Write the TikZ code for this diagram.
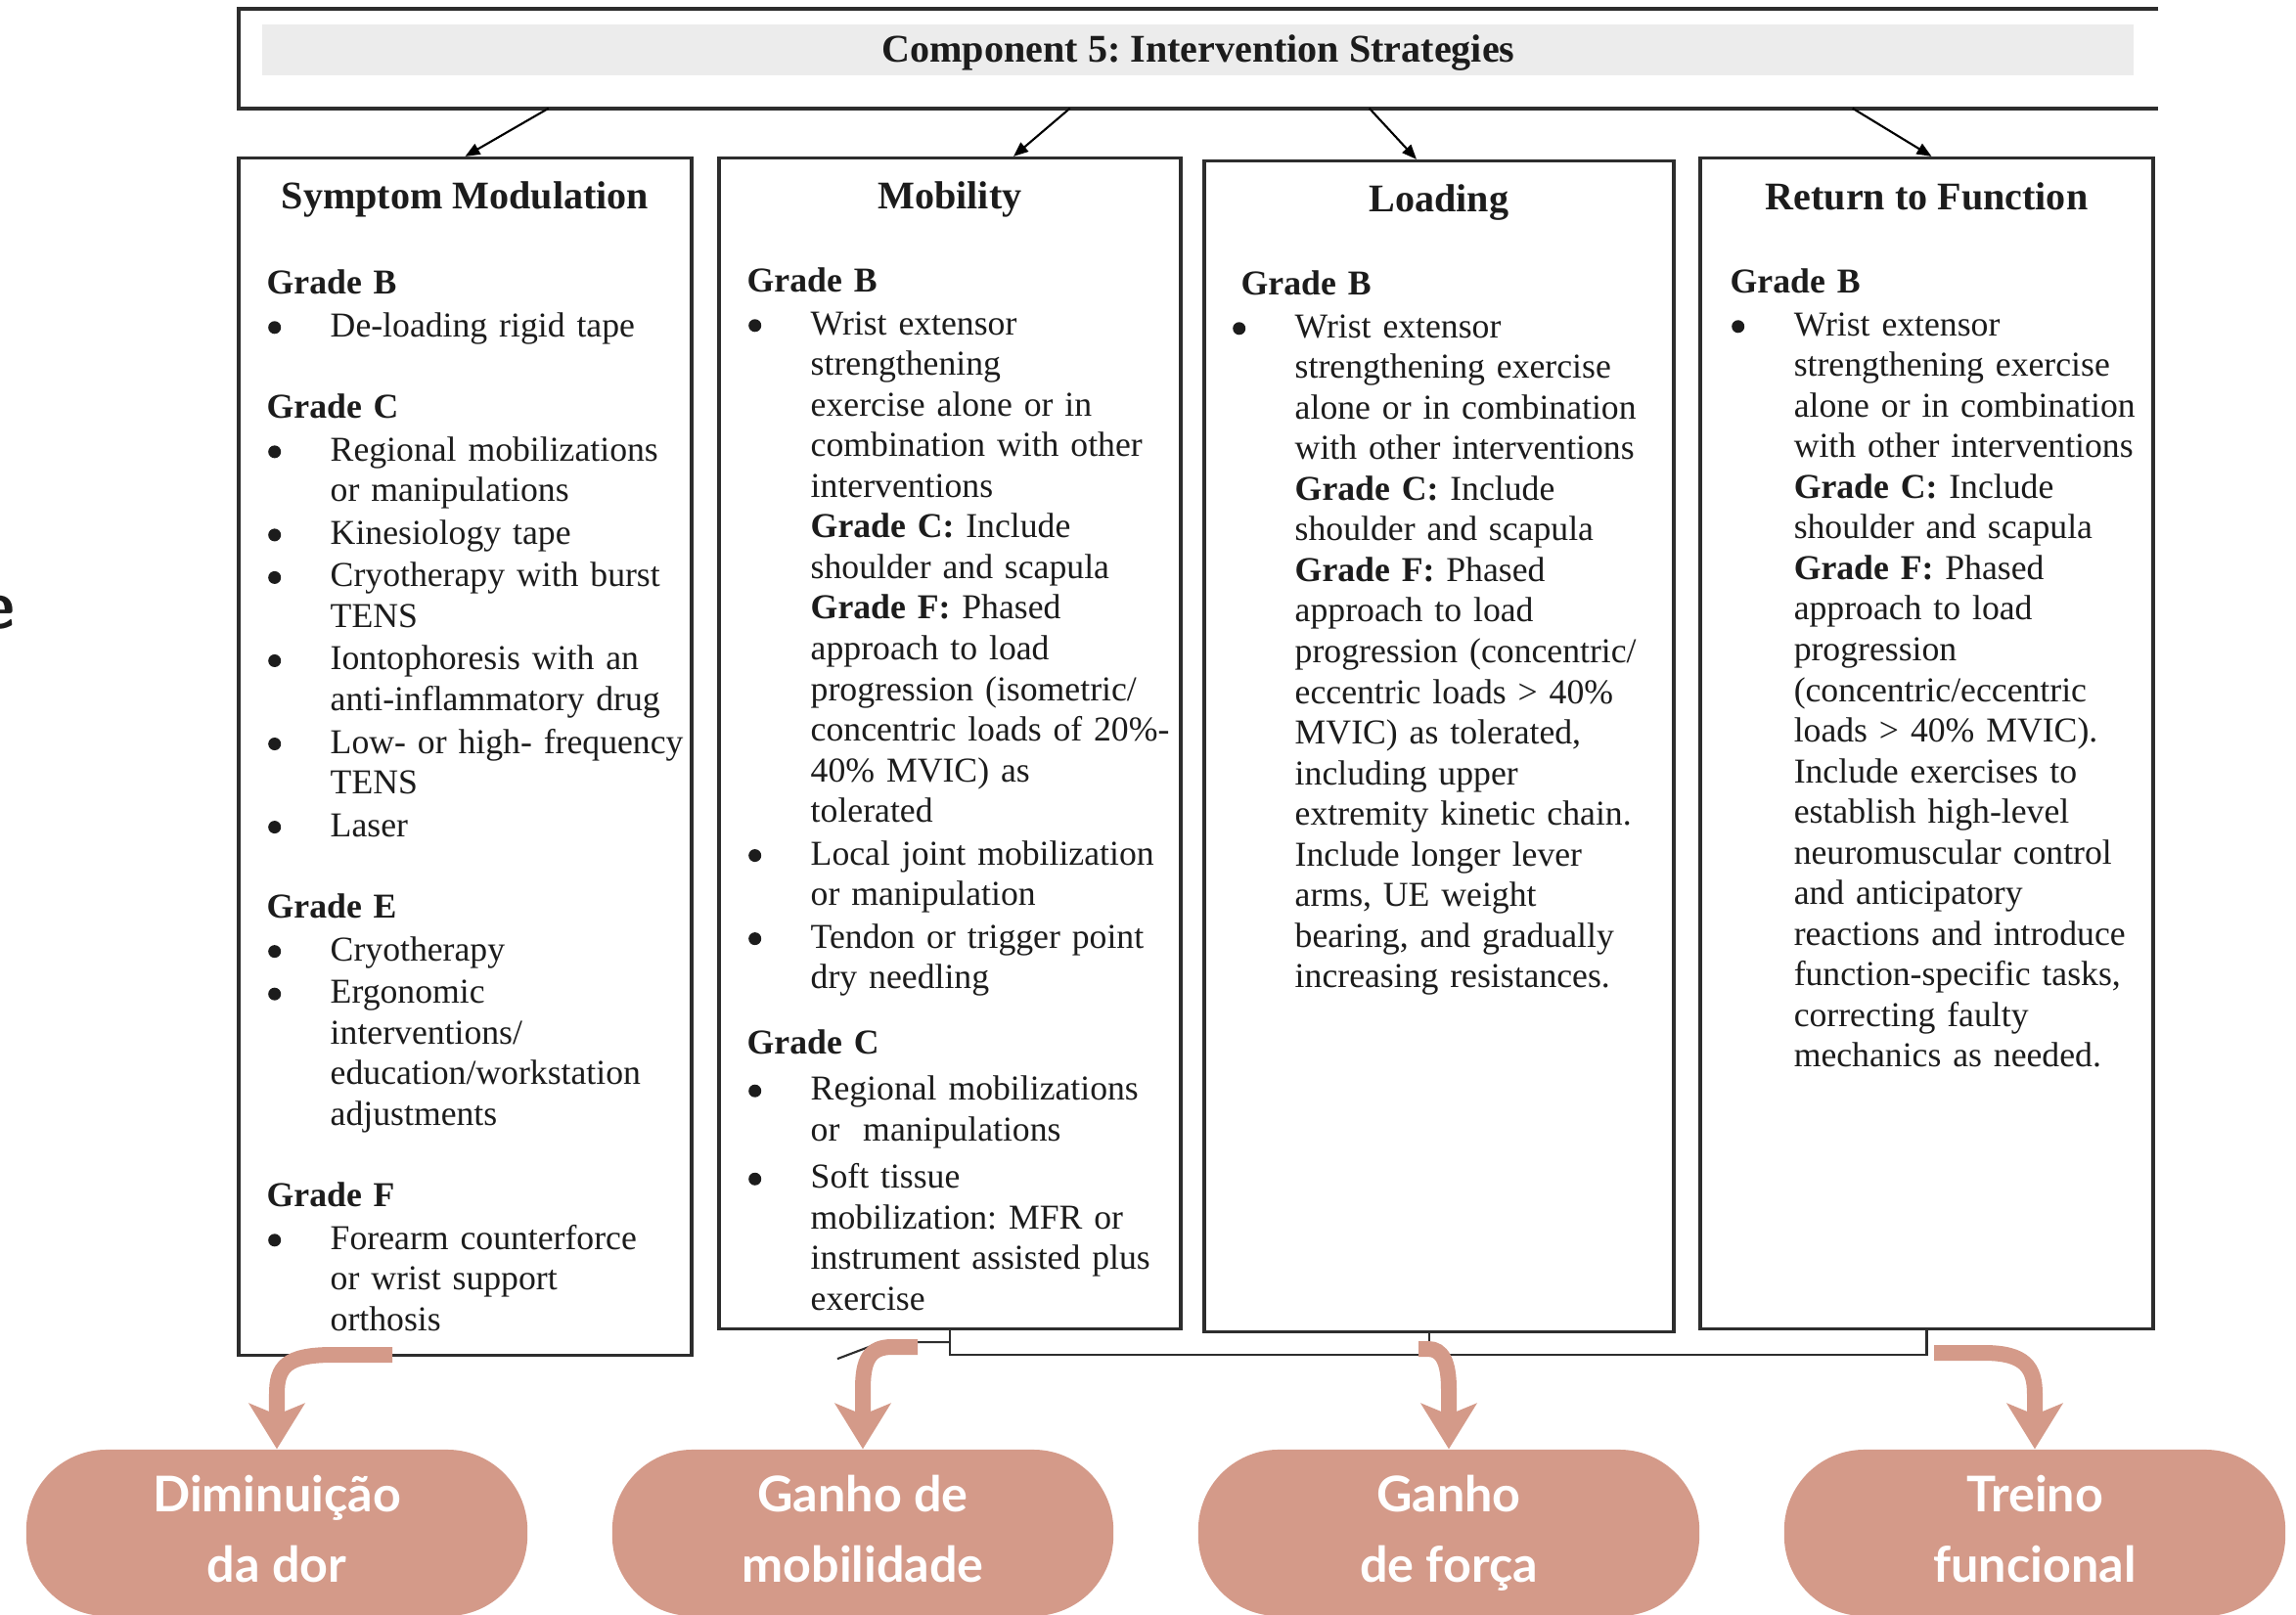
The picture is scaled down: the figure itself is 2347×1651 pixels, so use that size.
\documentclass[tikz,border=0pt]{standalone}
\usepackage{fontspec}
\setmainfont{Liberation Serif}
\newfontfamily\pillfamily{Lato}
\usetikzlibrary{arrows.meta,calc}

\definecolor{pillc}{RGB}{212,154,137}
\definecolor{bandgray}{RGB}{236,236,236}
\definecolor{inkc}{RGB}{28,28,28}
\definecolor{framec}{RGB}{45,45,45}

\frenchspacing
\newcommand{\bodyfont}{\fontsize{10.15pt}{0.415cm}\selectfont\parskip=0.02cm\relax}
\newcommand{\pillfont}{\pillfamily\bfseries\fontsize{14.3pt}{0.72cm}\selectfont}
\newcommand{\bigdot}{\hspace*{0.015cm}\tikz[baseline=0pt]\fill[inkc] (0.065cm,0.095cm) circle (0.065cm);}
\newcommand{\gradehd}[1]{\noindent\strut\textbf{#1}\par}
\newcommand{\bitem}[1]{\noindent\hangindent=0.65cm\hangafter=1\strut\makebox[0.65cm][l]{\bigdot}#1\par}
\newcommand{\gradegap}[1][0.40cm]{\vspace{#1}}

\begin{document}
\begin{tikzpicture}[x=0.01cm, y=-0.01cm,
    frame/.style={draw=framec, line width=1pt},
    panel/.style={frame, rectangle, inner sep=0pt},
    conn/.style={draw=black, line width=0.6pt, -{Triangle[length=0.15cm,width=0.12cm]}},
    thinln/.style={draw=framec, line width=0.6pt},
    salarr/.style={draw=pillc, line width=0.16cm, -{Stealth[length=0.47cm,width=0.58cm,inset=0.12cm,line width=0pt]}},
    ttl/.style={font=\fontsize{11.4pt}{13pt}\selectfont\bfseries, text=inkc, anchor=base, inner sep=0pt},
    body/.style={font=\bodyfont, text=inkc, text width=5.5cm, anchor=north west, inner sep=0pt},
    pill/.style={fill=pillc, rounded corners=0.82cm, minimum width=5.12cm, minimum height=1.70cm,
                 text=white, font=\pillfont, align=center, inner sep=0pt}
  ]
  \path[use as bounding box, fill=white] (0,0) rectangle (2347,1651);

  % header
  \fill[bandgray] (268,25) rectangle (2181,77);
  \node[minimum width=19.6cm, minimum height=1.0cm, inner sep=0pt] (hdr) at (1225,60) {};
  \draw[frame, line width=1.1pt] (hdr.north east) -- (hdr.north west) -- (hdr.south west) -- (hdr.south east);
  \node[ttl] (hdrttl) at (1225,63) {Component 5: Intervention Strategies};

  \node[font=\sffamily\bfseries\fontsize{20pt}{22pt}\selectfont, text=inkc, anchor=base east, inner sep=0pt] (stray) at (16,642) {e};

  % panels
  \node[panel, minimum width=4.63cm, minimum height=12.23cm] (sm) at (475.5,773.5) {};
  \node[panel, minimum width=4.72cm, minimum height=11.96cm] (mob) at (971,760) {};
  \node[panel, minimum width=4.80cm, minimum height=11.96cm] (load) at (1471,763) {};
  \node[panel, minimum width=4.63cm, minimum height=11.96cm] (ret) at (1969.5,760) {};

  \node[ttl] (smttl) at (475.5,213) {Symptom Modulation};
  \node[ttl] (mobttl) at (971,213) {Mobility};
  \node[ttl] (loadttl) at (1471,216) {Loading};
  \node[ttl] (retttl) at (1969.5,214) {Return to Function};

  \node[body] (smbody) at (272,271) {%
    \gradehd{Grade B}
    \bitem{De-loading rigid tape}
    \gradegap
    \gradehd{Grade C}
    \bitem{Regional mobilizations\newline or manipulations}
    \bitem{Kinesiology tape}
    \bitem{Cryotherapy with burst\newline TENS}
    \bitem{Iontophoresis with an\newline anti-inflammatory drug}
    \bitem{Low- or high- frequency\newline TENS}
    \bitem{Laser}
    \gradegap
    \gradehd{Grade E}
    \bitem{Cryotherapy}
    \bitem{Ergonomic\newline interventions/\newline education/workstation\newline adjustments}
    \gradegap
    \gradehd{Grade F}
    \bitem{Forearm counterforce\newline or wrist support\newline orthosis}};

  \node[body] (mobbody) at (763,269) {%
    \gradehd{Grade B}
    \bitem{Wrist extensor\newline strengthening\newline exercise alone or in\newline combination with other\newline interventions\newline
      \textbf{Grade C:} Include\newline shoulder and scapula\newline \textbf{Grade F:} Phased\newline approach to load\newline
      progression (isometric/\newline concentric loads of 20\%-\newline 40\% MVIC) as\newline tolerated}
    \bitem{Local joint mobilization\newline or manipulation}
    \bitem{Tendon or trigger point\newline dry needling}
    \gradegap[0.23cm]
    \gradehd{Grade C}
    \vspace{0.04cm}
    \bitem{Regional mobilizations\newline or\ \ manipulations}
    \vspace{0.05cm}
    \bitem{Soft tissue\newline mobilization: MFR or\newline instrument assisted plus\newline exercise}};

  \node[body] (loadbody) at (1258,272) {%
    \gradehd{\hspace*{0.1cm}Grade B}
    \bitem{Wrist extensor\newline strengthening exercise\newline alone or in combination\newline with other interventions\newline
      \textbf{Grade C:} Include\newline shoulder and scapula\newline \textbf{Grade F:} Phased\newline approach to load\newline
      progression (concentric/\newline eccentric loads > 40\%\newline MVIC) as tolerated,\newline including upper\newline
      extremity kinetic chain.\newline Include longer lever\newline arms, UE weight\newline bearing, and gradually\newline
      increasing resistances.}};

  \node[body] (retbody) at (1768,270) {%
    \gradehd{Grade B}
    \bitem{Wrist extensor\newline strengthening exercise\newline alone or in combination\newline with other interventions\newline
      \textbf{Grade C:} Include\newline shoulder and scapula\newline \textbf{Grade F:} Phased\newline approach to load\newline
      progression\newline (concentric/eccentric\newline loads > 40\% MVIC).\newline Include exercises to\newline
      establish high-level\newline neuromuscular control\newline and anticipatory\newline reactions and introduce\newline
      function-specific tasks,\newline correcting faulty\newline mechanics as needed.}};

  % header arrows
  \draw[conn] ($(hdr.south west)+(317,0)$) -- (sm.north);
  \draw[conn] ($(hdr.south west)+(850,0)$) -- ($(mob.north)+(65,0)$);
  \draw[conn] ($(hdr.south west)+(1156,0)$) -- ($(load.north)+(-23,0)$);
  \draw[conn] ($(hdr.south west)+(1650,0)$) -- ($(ret.north)+(5,0)$);

  % bracket under the panels
  \draw[thinln] (mob.south) -- ++(0,25) -| (ret.south);
  \draw[thinln] ($(load.south)+(-10,0)$) -- ++(0,21);
  \draw[thinln] ($(mob.south)+(0,12)$) -- ++(-70,0) -- ++(-45,17);

  % goals
  \foreach \nm/\cx/\la/\lb in {p1/283/Diminuição/da dor, p2/882/Ganho de/mobilidade,
                               p3/1481/Ganho/de força, p4/2080/Treino/funcional}
    \node[pill] (\nm) at (\cx,1567) {\strut\la\\\strut\lb};

  \coordinate (a1) at (401,1385);
  \coordinate (a2) at (938,1377);
  \coordinate (a3) at (1450,1379);
  \coordinate (a4) at (1977,1383);
  \draw[salarr] (a1) -- (340,1385) .. controls (292,1385) and (283,1398) .. (283,1425) -- (p1.north);
  \draw[salarr] (a2) -- (912,1377) .. controls (889,1377) and (882,1390) .. (882,1420) -- (p2.north);
  \draw[salarr] (a3) -- (1460,1379) .. controls (1474,1379) and (1481,1392) .. (1481,1420) -- (p3.north);
  \draw[salarr] (a4) -- (2028,1383) .. controls (2070,1383) and (2080,1398) .. (2080,1425) -- (p4.north);
\end{tikzpicture}
\end{document}
